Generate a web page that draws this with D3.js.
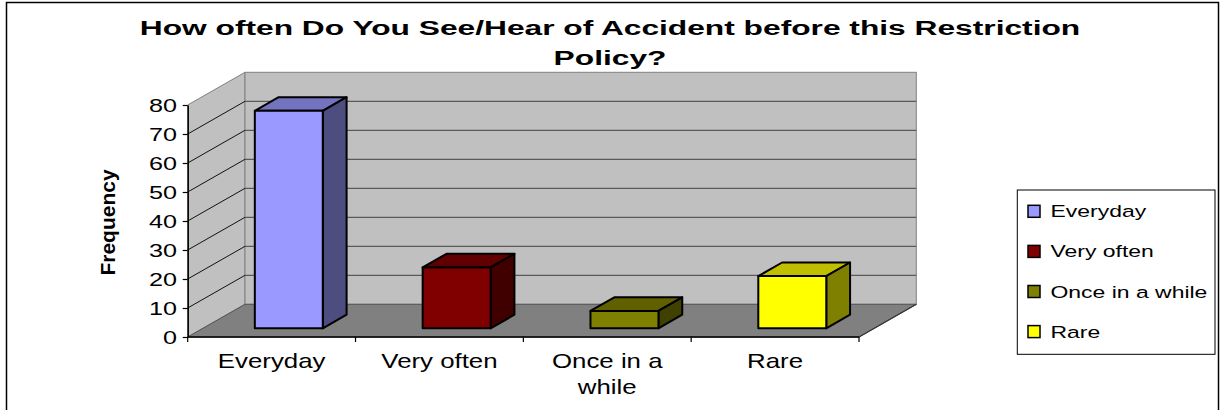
<!DOCTYPE html>
<html><head><meta charset="utf-8">
<script src="https://cdn.jsdelivr.net/npm/d3@7"></script>
<style>body{margin:0;background:#fff} svg{display:block}</style>
</head><body>
<svg id="chart" width="1222" height="410"></svg>
<script>
// ---- data ----
const categories = ["Everyday", "Very often", "Once in a while", "Rare"];
const frequency = [75, 21, 6, 18];
const yTicks = [0, 10, 20, 30, 40, 50, 60, 70, 80];
const titleLines = ["How often Do You See/Hear of Accident before this Restriction", "Policy?"];
const yTitle = "Frequency";
const seriesColors = ["#9999FF", "#800000", "#808000", "#FFFF00"];

// ---- layout / style ----
const FONT = "'Liberation Sans', Arial, Helvetica, sans-serif";
const svg = d3.select("#chart");
const DX = 57.3, DY = -32.7;            // 3D depth offset
const BAR_FX = 17.2, BAR_FY = -8.7;     // front face of bars inside depth
const BAR_DX = 23.8, BAR_DY = -13.6;    // bar depth
const BAR_W = 0.405;

svg.append("rect").attr("x", 6.5).attr("y", 2.5).attr("width", 1212).attr("height", 430)
  .attr("fill", "#fff").attr("stroke", "#000").attr("stroke-width", 1.5);

const x = d3.scaleBand().domain(categories).range([187.7, 859]);
const y = d3.scaleLinear().domain([0, 80]).range([337, 105]);
const [xa, xb] = x.range();
const ya = y(0), yb = y(80);

// side wall
svg.append("path")
  .attr("d", `M${xa},${ya}L${xa},${yb}L${xa + DX},${yb + DY}L${xa + DX},${ya + DY}Z`)
  .attr("fill", "#C0C0C0").attr("stroke", "#808080").attr("stroke-width", 1);
// back wall
svg.append("rect").attr("x", xa + DX).attr("y", yb + DY).attr("width", xb - xa).attr("height", ya - yb)
  .attr("fill", "#C0C0C0").attr("stroke", "#808080").attr("stroke-width", 1);
// gridlines
const inner = yTicks.filter(t => t > 0 && t < 80);
svg.append("g").selectAll("line").data(inner).join("line")
  .attr("x1", xa + DX).attr("x2", xb + DX)
  .attr("y1", d => y(d) + DY).attr("y2", d => y(d) + DY)
  .attr("stroke", "#5a5a5a").attr("stroke-width", 1.2);
svg.append("g").selectAll("line").data(inner).join("line")
  .attr("x1", xa).attr("x2", xa + DX)
  .attr("y1", d => y(d)).attr("y2", d => y(d) + DY)
  .attr("stroke", "#111").attr("stroke-width", 1);
// floor
svg.append("path")
  .attr("d", `M${xa},${ya}L${xb},${ya}L${xb + DX},${ya + DY}L${xa + DX},${ya + DY}Z`)
  .attr("fill", "#808080").attr("stroke", "#555").attr("stroke-width", 1);
svg.append("line").attr("x1", xb).attr("y1", ya).attr("x2", xb + DX).attr("y2", ya + DY)
  .attr("stroke", "#333").attr("stroke-width", 1.2);

// bars
const shade = (c, k) => { const r = d3.rgb(c); return d3.rgb(r.r * k, r.g * k, r.b * k).formatHex(); };
const bars = svg.append("g").selectAll("g").data(categories.map((c, i) => ({c, v: frequency[i], col: seriesColors[i]}))).join("g");
bars.each(function(d) {
  const g = d3.select(this);
  const bw = x.bandwidth() * BAR_W;
  const x0 = x(d.c) + x.bandwidth() / 2 - bw / 2 + BAR_FX;
  const x1 = x0 + bw;
  const yt = y(d.v) + BAR_FY, ybot = y(0) + BAR_FY;
  const common = s => s.attr("stroke", "#000").attr("stroke-width", 2).attr("stroke-linejoin", "round");
  common(g.append("path").attr("d", `M${x0},${yt}L${x1},${yt}L${x1 + BAR_DX},${yt + BAR_DY}L${x0 + BAR_DX},${yt + BAR_DY}Z`).attr("fill", shade(d.col, 0.75)));
  common(g.append("path").attr("d", `M${x1},${yt}L${x1 + BAR_DX},${yt + BAR_DY}L${x1 + BAR_DX},${ybot + BAR_DY}L${x1},${ybot}Z`).attr("fill", shade(d.col, 0.5)));
  common(g.append("rect").attr("x", x0).attr("y", yt).attr("width", bw).attr("height", ybot - yt).attr("fill", d.col));
});

// y axis
const yAxis = svg.append("g").attr("transform", `translate(${xa},0)`)
  .call(d3.axisLeft(y).tickValues(yTicks).tickSize(5).tickSizeOuter(0));
yAxis.select(".domain").attr("stroke", "#000").attr("stroke-width", 1.5);
yAxis.selectAll(".tick line").attr("stroke", "#000").attr("stroke-width", 1.2);
yAxis.selectAll(".tick text").attr("x", null).attr("dy", "0.38em")
  .attr("transform", "translate(-10.7,0) scale(1.4,1)")
  .attr("font-family", FONT).attr("font-size", 18).attr("fill", "#000").attr("text-anchor", "end");

// x axis
svg.append("line").attr("x1", xa).attr("x2", xb).attr("y1", ya).attr("y2", ya).attr("stroke", "#000").attr("stroke-width", 1.5);
const bounds = categories.map(c => x(c)).concat([xb]);
svg.append("g").selectAll("line").data(bounds).join("line")
  .attr("x1", d => d).attr("x2", d => d).attr("y1", ya).attr("y2", ya + 5)
  .attr("stroke", "#000").attr("stroke-width", 1.2);
const wrap = s => { if (s.length <= 10) return [s]; const i = s.lastIndexOf(" ", 10); return [s.slice(0, i), s.slice(i + 1)]; };
categories.forEach(c => {
  wrap(c).forEach((line, k) => {
    svg.append("text").text(line)
      .attr("transform", `translate(${x(c) + x.bandwidth() / 2},${368 + k * 26}) scale(1.23,1)`)
      .attr("text-anchor", "middle").attr("font-family", FONT).attr("font-size", 21).attr("fill", "#000");
  });
});

// y title
svg.append("text").text(yTitle)
  .attr("transform", "translate(115,222.5) rotate(-90)")
  .attr("text-anchor", "middle").attr("font-family", FONT).attr("font-size", 21)
  .attr("font-weight", "bold").attr("fill", "#000");

// title
const tTexts = titleLines.map((t, k) => svg.append("text").text(t)
  .attr("text-anchor", "middle").attr("font-family", FONT).attr("font-size", 21)
  .attr("font-weight", "bold").attr("fill", "#000"));
const sx = 941 / tTexts[0].node().getComputedTextLength();
tTexts.forEach((t, k) => t.attr("transform", `translate(610,${35 + k * 30}) scale(${sx},1)`));

// legend
const lg = svg.append("g");
lg.append("rect").attr("x", 1017.3).attr("y", 190).attr("width", 197.7).attr("height", 164.3)
  .attr("fill", "#fff").attr("stroke", "#000").attr("stroke-width", 1);
categories.forEach((c, i) => {
  const cy = 211.3 + i * 40.1;
  lg.append("rect").attr("x", 1028).attr("y", cy - 6).attr("width", 12).attr("height", 12)
    .attr("fill", seriesColors[i]).attr("stroke", "#000").attr("stroke-width", 1.5);
  lg.append("text").text(c).attr("transform", `translate(1050.5,${cy + 6}) scale(1.35,1)`)
    .attr("font-family", FONT).attr("font-size", 17).attr("fill", "#000");
});
</script>
</body></html>
